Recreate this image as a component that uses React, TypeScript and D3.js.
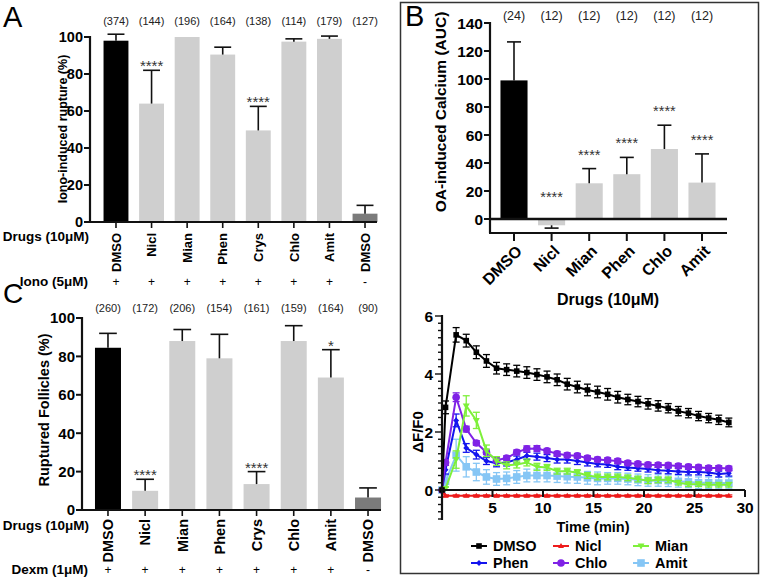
import React from 'react';
import * as d3 from 'd3';

const FONT = "'Liberation Sans', Arial, Helvetica, sans-serif";

// ---------------- Panel A ----------------
const aDrugs = ['DMSO', 'Nicl', 'Mian', 'Phen', 'Crys', 'Chlo', 'Amit', 'DMSO'];
const aMeans = [98, 64, 100, 90.5, 49.5, 97.5, 99, 4.5];
const aErrs = [3.5, 18, 0, 4, 13, 1.5, 1.5, 4.5];
const aCounts = ['(374)', '(144)', '(196)', '(164)', '(138)', '(114)', '(179)', '(127)'];
const aSig = ['', '****', '', '', '****', '', '', ''];
const aIono = ['+', '+', '+', '+', '+', '+', '+', '-'];
const aTicks = [0, 20, 40, 60, 80, 100];

// ---------------- Panel C ----------------
const cDrugs = ['DMSO', 'Nicl', 'Mian', 'Phen', 'Crys', 'Chlo', 'Amit', 'DMSO'];
const cMeans = [84.5, 10, 88, 79, 13.5, 88, 69, 6.5];
const cErrs = [7.5, 6, 6, 12.5, 6.5, 8, 14.5, 5];
const cCounts = ['(260)', '(172)', '(206)', '(154)', '(161)', '(159)', '(164)', '(90)'];
const cSig = ['', '****', '', '', '****', '', '*', ''];
const cDexm = ['+', '+', '+', '+', '+', '+', '+', '-'];
const cTicks = [0, 20, 40, 60, 80, 100];

// ---------------- Panel B (bars) ----------------
const bDrugs = ['DMSO', 'Nicl', 'Mian', 'Phen', 'Chlo', 'Amit'];
const bMeans = [99, -4.5, 25.5, 32, 50, 26];
const bErrs = [27.5, 2, 10.5, 12, 17, 20.5];
const bCounts = ['(24)', '(12)', '(12)', '(12)', '(12)', '(12)'];
const bSig = ['', '****', '****', '****', '****', '****'];
const bTicks = [0, 20, 40, 60, 80, 100, 120, 140];

// ---------------- Panel B (time course) ----------------
const times = [0, 0.35, 1.4, 2.4, 3.4, 4.4, 5.4, 6.4, 7.4, 8.4, 9.4, 10.4, 11.4, 12.4, 13.4, 14.4,
  15.4, 16.4, 17.4, 18.4, 19.4, 20.4, 21.4, 22.4, 23.4, 24.4, 25.4, 26.4, 27.4, 28.4];
const dmsoMean = [0, 2.85, 5.35, 5.15, 4.75, 4.45, 4.2, 4.15, 4.1, 4.05, 3.98, 3.9, 3.8, 3.65, 3.55,
  3.45, 3.38, 3.3, 3.2, 3.12, 3.05, 2.97, 2.9, 2.82, 2.72, 2.65, 2.55, 2.48, 2.42, 2.33];
const dmsoErr = [0, 0.22, 0.25, 0.22, 0.22, 0.22, 0.2, 0.2, 0.2, 0.2, 0.2, 0.2, 0.2, 0.2, 0.2,
  0.2, 0.2, 0.2, 0.2, 0.18, 0.18, 0.18, 0.18, 0.16, 0.16, 0.16, 0.16, 0.16, 0.16, 0.15];
const niclMean = [0, -0.2, -0.2, -0.2, -0.2, -0.2, -0.2, -0.2, -0.2, -0.2, -0.2, -0.2, -0.2, -0.2, -0.2,
  -0.2, -0.2, -0.2, -0.2, -0.2, -0.2, -0.2, -0.2, -0.2, -0.2, -0.2, -0.2, -0.2, -0.2, -0.2];
const niclErr = [0, 0.03, 0.03, 0.03, 0.03, 0.03, 0.03, 0.03, 0.03, 0.03, 0.03, 0.03, 0.03, 0.03, 0.03,
  0.03, 0.03, 0.03, 0.03, 0.03, 0.03, 0.03, 0.03, 0.03, 0.03, 0.03, 0.03, 0.03, 0.03, 0.03];
const mianMean = [0, 0.05, 1.05, 2.9, 2.4, 1.35, 1.0, 0.85, 0.88, 0.95, 0.8, 0.78, 0.65, 0.65, 0.6,
  0.5, 0.45, 0.45, 0.45, 0.42, 0.38, 0.32, 0.35, 0.35, 0.25, 0.2, 0.2, 0.18, 0.18, 0.18];
const mianErr = [0, 0.05, 0.3, 0.35, 0.28, 0.2, 0.15, 0.12, 0.12, 0.12, 0.12, 0.1, 0.1, 0.1, 0.1,
  0.1, 0.1, 0.1, 0.1, 0.1, 0.1, 0.1, 0.1, 0.1, 0.08, 0.08, 0.08, 0.08, 0.08, 0.08];
const phenMean = [0, 0.7, 2.4, 1.45, 1.22, 1.0, 0.92, 0.95, 1.05, 1.18, 1.15, 1.1, 1.05, 1.05, 1.0,
  0.95, 0.9, 0.88, 0.8, 0.78, 0.75, 0.72, 0.68, 0.66, 0.64, 0.62, 0.62, 0.6, 0.55, 0.58];
const phenErr = [0, 0.15, 0.22, 0.15, 0.15, 0.12, 0.12, 0.12, 0.12, 0.12, 0.12, 0.12, 0.12, 0.12, 0.12,
  0.12, 0.1, 0.1, 0.1, 0.1, 0.1, 0.1, 0.1, 0.1, 0.1, 0.1, 0.1, 0.1, 0.1, 0.1];
const chloMean = [0, 0.95, 3.2, 2.1, 1.62, 1.3, 1.03, 1.1, 1.3, 1.42, 1.43, 1.35, 1.25, 1.2, 1.18,
  1.1, 1.05, 1.03, 1.0, 0.93, 0.9, 0.87, 0.86, 0.85, 0.83, 0.8, 0.78, 0.76, 0.76, 0.74];
const chloErr = [0, 0.1, 0.15, 0.1, 0.08, 0.08, 0.08, 0.08, 0.08, 0.1, 0.1, 0.08, 0.08, 0.08, 0.08,
  0.08, 0.08, 0.08, 0.08, 0.08, 0.08, 0.08, 0.08, 0.08, 0.08, 0.08, 0.08, 0.08, 0.08, 0.08];
const amitMean = [0, 0.3, 1.2, 0.8, 0.62, 0.45, 0.38, 0.4, 0.45, 0.5, 0.5, 0.5, 0.48, 0.46, 0.45,
  0.42, 0.4, 0.4, 0.4, 0.38, 0.35, 0.33, 0.33, 0.32, 0.3, 0.28, 0.25, 0.25, 0.24, 0.24];
const amitErr = [0, 0.2, 0.55, 0.35, 0.3, 0.25, 0.22, 0.22, 0.22, 0.22, 0.22, 0.22, 0.22, 0.22, 0.22,
  0.22, 0.22, 0.2, 0.2, 0.2, 0.2, 0.2, 0.2, 0.2, 0.2, 0.2, 0.2, 0.2, 0.2, 0.2];
const timeXTicks = [5, 10, 15, 20, 25, 30];
const timeYTicks = [0, 2, 4, 6];

const seriesList = [
  { name: 'Amit', mean: amitMean, err: amitErr, color: '#86c6f5', shape: 'bigsquare' },
  { name: 'Phen', mean: phenMean, err: phenErr, color: '#1414ee', shape: 'plus' },
  { name: 'Chlo', mean: chloMean, err: chloErr, color: '#7f22e6', shape: 'circle' },
  { name: 'Mian', mean: mianMean, err: mianErr, color: '#7ef03a', shape: 'tridown' },
  { name: 'Nicl', mean: niclMean, err: niclErr, color: '#ee1b1b', shape: 'triup' },
  { name: 'DMSO', mean: dmsoMean, err: dmsoErr, color: '#000000', shape: 'square' },
];
const legendOrder = ['DMSO', 'Nicl', 'Mian', 'Phen', 'Chlo', 'Amit'];

function barColor(i: number, n: number) {
  if (i === 0) return '#000';
  if (i === n - 1 && n === 8) return '#7b7b7b';
  return '#cfcfcf';
}

function Marker({ shape, x, y, color }: { shape: string; x: number; y: number; color: string }) {
  if (shape === 'square') return <rect x={x - 2.8} y={y - 2.8} width={5.6} height={5.6} fill={color} />;
  if (shape === 'bigsquare') return <rect x={x - 3.8} y={y - 3.8} width={7.6} height={7.6} fill={color} />;
  if (shape === 'circle') return <circle cx={x} cy={y} r={3.8} fill={color} />;
  if (shape === 'triup') return <path d={`M${x},${y - 3}L${x + 3},${y + 2}L${x - 3},${y + 2}Z`} fill={color} />;
  if (shape === 'tridown') return <path d={`M${x},${y + 3.5}L${x + 3.5},${y - 2.5}L${x - 3.5},${y - 2.5}Z`} fill={color} />;
  return <path d={`M${x},${y - 3}L${x + 3},${y}L${x},${y + 3}L${x - 3},${y}Z`} fill={color} />;
}

type BarCfg = {
  drugs: string[]; means: number[]; errs: number[]; counts: string[]; sig: string[]; ticks: number[];
  axisX: number; y0: number; y100: number; rangeL: number; rangeR: number; axisEnd: number;
  countY: number; labelTop: number; tickFont: number; labFont: number; countFont: number;
  title: string; titleX: number; titleY: number; titleFont: number;
  rowY: number; rowSigns: string[]; rowName: string; drugsY: number;
};

function BarPanel(c: BarCfg) {
  const y = d3.scaleLinear().domain([0, 100]).range([c.y0, c.y100]);
  const x = d3.scaleBand<number>().domain(d3.range(c.drugs.length)).range([c.rangeL, c.rangeR])
    .paddingInner(0.3).paddingOuter(0.15);
  const bw = x.bandwidth();
  const n = c.drugs.length;
  return (
    <g>
      {c.means.map((m, i) => {
        const cx = (x(i) as number) + bw / 2;
        const top = y(m);
        const et = y(m + c.errs[i]);
        return (
          <g key={i}>
            <rect x={x(i)} y={top} width={bw} height={c.y0 - top} fill={barColor(i, n)} />
            {c.errs[i] > 0 && (
              <g stroke="#111" strokeWidth={1.6}>
                <line x1={cx} x2={cx} y1={top} y2={et} />
                <line x1={cx - bw * 0.34} x2={cx + bw * 0.34} y1={et} y2={et} />
              </g>
            )}
            {c.sig[i] && (
              <text x={cx} y={et + 1} textAnchor="middle" fontSize={15} fill="#333" fontFamily={FONT}>{c.sig[i]}</text>
            )}
            <text x={cx} y={c.countY} textAnchor="middle" dominantBaseline="middle" fontSize={c.countFont} fill="#222" fontFamily={FONT}>{c.counts[i]}</text>
            <line x1={cx} x2={cx} y1={c.y0} y2={c.y0 + 6} stroke="#111" strokeWidth={1.6} />
            <text transform={`translate(${cx},${c.labelTop}) rotate(-90)`} textAnchor="end" dy="0.36em"
              fontSize={c.labFont} fontWeight="bold" fontFamily={FONT}>{c.drugs[i]}</text>
            <text x={cx} y={c.rowY} textAnchor="middle" fontSize={12} fontFamily={FONT}>{c.rowSigns[i]}</text>
          </g>
        );
      })}
      <line x1={c.axisX} x2={c.axisX} y1={c.y100 - 1} y2={c.y0} stroke="#111" strokeWidth={2.2} />
      <line x1={c.axisX - 1} x2={c.axisEnd} y1={c.y0} y2={c.y0} stroke="#111" strokeWidth={2.2} />
      {c.ticks.map(t => (
        <g key={t}>
          <line x1={c.axisX - 6} x2={c.axisX} y1={y(t)} y2={y(t)} stroke="#111" strokeWidth={2} />
          <text x={c.axisX - 7} y={y(t)} dy="0.36em" textAnchor="end" fontSize={c.tickFont} fontWeight="bold" fontFamily={FONT}>{t}</text>
        </g>
      ))}
      <text transform={`translate(${c.titleX},${c.titleY}) rotate(-90)`} textAnchor="middle" dy="0.36em"
        fontSize={c.titleFont} fontWeight="bold" fontFamily={FONT}>{c.title}</text>
      <text x={89} y={c.drugsY} textAnchor="end" fontSize={13.5} fontWeight="bold" fontFamily={FONT}>Drugs (10μM)</text>
      <text x={88} y={c.rowY} textAnchor="end" fontSize={13.5} fontWeight="bold" fontFamily={FONT}>{c.rowName}</text>
    </g>
  );
}

function PanelBBars() {
  const y = d3.scaleLinear().domain([-10, 140]).range([233, 23]);
  const x = d3.scaleBand<number>().domain(d3.range(bDrugs.length)).range([495.2, 720.8])
    .paddingInner(0.28).paddingOuter(0.14);
  const bw = x.bandwidth();
  return (
    <g>
      {bMeans.map((m, i) => {
        const cx = (x(i) as number) + bw / 2;
        const top = y(Math.max(m, 0));
        const bot = y(Math.min(m, 0));
        const eEnd = m >= 0 ? y(m + bErrs[i]) : y(m - bErrs[i]);
        const eStart = y(m);
        const sigY = m >= 0 ? eEnd - 9 : y(18) + 8;
        return (
          <g key={i}>
            <rect x={x(i)} y={top} width={bw} height={bot - top} fill={i === 0 ? '#000' : '#cfcfcf'} />
            <g stroke="#111" strokeWidth={1.6}>
              <line x1={cx} x2={cx} y1={eStart} y2={eEnd} />
              <line x1={cx - 7} x2={cx + 7} y1={eEnd} y2={eEnd} />
            </g>
            {bSig[i] && (
              <text x={cx} y={sigY} textAnchor="middle" fontSize={14.5} fill="#333" fontFamily={FONT}>{bSig[i]}</text>
            )}
            <text x={cx} y={17} textAnchor="middle" dominantBaseline="middle" fontSize={12.5} fill="#222" fontFamily={FONT}>{bCounts[i]}</text>
            <line x1={cx} x2={cx} y1={233} y2={241} stroke="#111" strokeWidth={2} />
            <text transform={`translate(${cx + 5},${248}) rotate(-45)`} textAnchor="end" dy="0.36em"
              fontSize={16} fontWeight="bold" fontFamily={FONT}>{bDrugs[i]}</text>
          </g>
        );
      })}
      <line x1={490} x2={490} y1={22} y2={233} stroke="#111" strokeWidth={2.2} />
      <line x1={489} x2={727} y1={y(0)} y2={y(0)} stroke="#111" strokeWidth={2.6} />
      <line x1={489} x2={727} y1={233} y2={233} stroke="#111" strokeWidth={2.2} />
      {bTicks.map(t => (
        <g key={t}>
          <line x1={484} x2={490} y1={y(t)} y2={y(t)} stroke="#111" strokeWidth={2} />
          <text x={483} y={y(t)} dy="0.36em" textAnchor="end" fontSize={15.5} fontWeight="bold" fontFamily={FONT}>{t}</text>
        </g>
      ))}
      <text transform={`translate(440,112) rotate(-90)`} textAnchor="middle" dy="0.36em"
        fontSize={15.5} fontWeight="bold" fontFamily={FONT}>OA-induced Calcium (AUC)</text>
      <text x={608} y={305} textAnchor="middle" fontSize={16} fontWeight="bold" fontFamily={FONT}>Drugs (10μM)</text>
    </g>
  );
}

function TimeCourse() {
  const x = d3.scaleLinear().domain([0, 30]).range([442, 745]);
  const y = d3.scaleLinear().domain([-1, 6]).range([519, 316]);
  const line = d3.line<number>().x((_, i) => x(times[i])).y(d => y(d));
  const minor = d3.range(-1, 6.001, 0.25);
  return (
    <g>
      {seriesList.map(s => (
        <g key={s.name}>
          <path d={line(s.mean) || ''} fill="none" stroke={s.color} strokeWidth={2} />
          {s.mean.map((m, i) => s.err[i] > 0 ? (
            <g key={i} stroke={s.color} strokeWidth={1.3}>
              <line x1={x(times[i])} x2={x(times[i])} y1={y(m - s.err[i])} y2={y(m + s.err[i])} />
              <line x1={x(times[i]) - 3.5} x2={x(times[i]) + 3.5} y1={y(m + s.err[i])} y2={y(m + s.err[i])} />
              <line x1={x(times[i]) - 3.5} x2={x(times[i]) + 3.5} y1={y(m - s.err[i])} y2={y(m - s.err[i])} />
            </g>
          ) : null)}
          {s.mean.map((m, i) => <Marker key={i} shape={s.shape} x={x(times[i])} y={y(m)} color={s.color} />)}
        </g>
      ))}
      <line x1={442} x2={442} y1={315} y2={520} stroke="#111" strokeWidth={2.2} />
      <line x1={441} x2={745} y1={y(0)} y2={y(0)} stroke="#111" strokeWidth={2.2} />
      {minor.map(t => (
        <line key={t} x1={442 - (Math.abs(t % 2) < 1e-6 ? 7 : 4)} x2={442} y1={y(t)} y2={y(t)} stroke="#111" strokeWidth={1.4} />
      ))}
      {timeYTicks.map(t => (
        <text key={t} x={433} y={y(t)} dy="0.36em" textAnchor="end" fontSize={15.5} fontWeight="bold" fontFamily={FONT}>{t}</text>
      ))}
      {timeXTicks.map(t => (
        <g key={t}>
          <line x1={x(t)} x2={x(t)} y1={y(0)} y2={y(0) + 7} stroke="#111" strokeWidth={2} />
          <text x={x(t)} y={y(0) + 12} dy="0.71em" textAnchor="middle" fontSize={15.5} fontWeight="bold" fontFamily={FONT}>{t}</text>
        </g>
      ))}
      <text transform={`translate(418,432) rotate(-90)`} textAnchor="middle" dy="0.36em"
        fontSize={15} fontWeight="bold" fontFamily={FONT}>ΔF/F0</text>
      <text x={593} y={532} textAnchor="middle" fontSize={14.5} fontWeight="bold" fontFamily={FONT}>Time (min)</text>
      {legendOrder.map((name, k) => {
        const s = seriesList.find(d => d.name === name)!;
        const col = k % 3;
        const row = Math.floor(k / 3);
        const lx = [471, 553, 633][col];
        const ly = 546 + row * 17;
        return (
          <g key={name}>
            <line x1={lx} x2={lx + 16} y1={ly} y2={ly} stroke={s.color} strokeWidth={2} />
            <Marker shape={s.shape} x={lx + 8} y={ly} color={s.color} />
            <text x={lx + 22} y={ly} dy="0.36em" fontSize={14.5} fontWeight="bold" fontFamily={FONT}>{name}</text>
          </g>
        );
      })}
    </g>
  );
}

export default function App() {
  return (
    <svg width={762} height={586} style={{ position: 'absolute', left: 0, top: 0, background: '#fff' }}
      fontFamily={FONT}>
      <rect x={0} y={0} width={762} height={586} fill="#fff" />
      <text x={3} y={27} fontSize={29} fontFamily={FONT}>A</text>
      <text x={3} y={303} fontSize={28} fontFamily={FONT}>C</text>
      <BarPanel drugs={aDrugs} means={aMeans} errs={aErrs} counts={aCounts} sig={aSig} ticks={aTicks}
        axisX={90} y0={222} y100={37} rangeL={98.2} rangeR={382.8} axisEnd={377}
        countY={22} labelTop={233} tickFont={14.5} labFont={13} countFont={11}
        title="Iono-induced rupture (%)" titleX={62} titleY={129} titleFont={12.5}
        rowY={286} rowSigns={aIono} rowName="Iono (5μM)" drugsY={241} />
      <BarPanel drugs={cDrugs} means={cMeans} errs={cErrs} counts={cCounts} sig={cSig} ticks={cTicks}
        axisX={82} y0={510} y100={318} rangeL={89.4} rangeR={386.6} axisEnd={381}
        countY={309} labelTop={519} tickFont={15} labFont={14.5} countFont={11}
        title="Ruptured Follicles (%)" titleX={44} titleY={410} titleFont={14.5}
        rowY={574} rowSigns={cDexm} rowName="Dexm (1μM)" drugsY={530} />
      <rect x={400.5} y={2.5} width={358} height={571} fill="none" stroke="#333" strokeWidth={1.5} />
      <text x={405} y={26} fontSize={29} fontFamily={FONT}>B</text>
      <PanelBBars />
      <TimeCourse />
    </svg>
  );
}
